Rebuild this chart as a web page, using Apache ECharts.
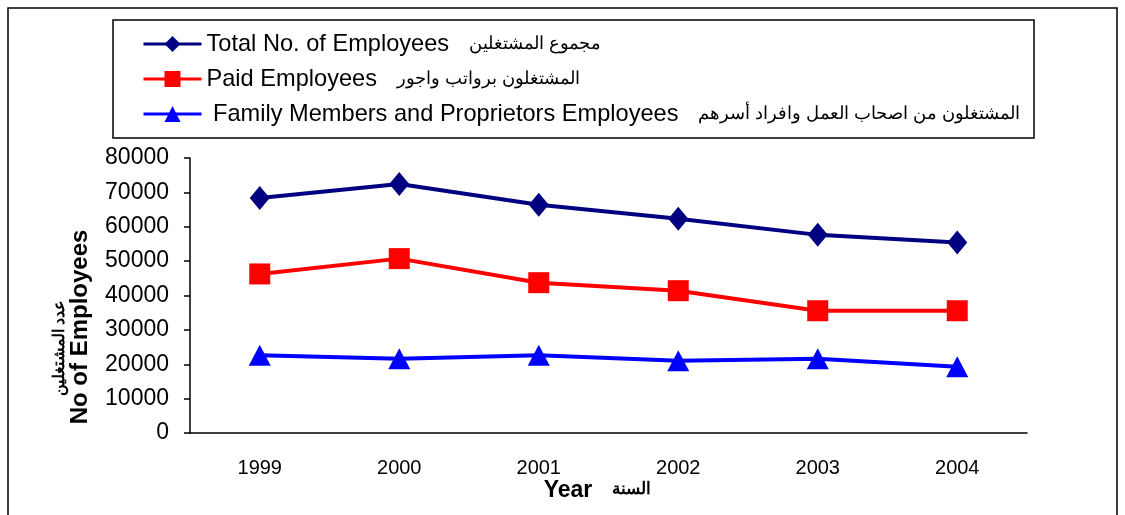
<!DOCTYPE html>
<html>
<head>
<meta charset="utf-8">
<script src="https://cdn.jsdelivr.net/npm/echarts@6/dist/echarts.min.js"></script>
<style>
  html, body { margin: 0; padding: 0; background: #fff; }
  #chart { width: 1125px; height: 515px; }
</style>
</head>
<body>
<div id="chart"></div>
<script>
  // data
  var years = ['1999', '2000', '2001', '2002', '2003', '2004'];
  var totalEmployees = [68340, 72420, 66380, 62300, 57640, 55400];
  var paidEmployees = [46270, 50730, 43730, 41400, 35570, 35570];
  var familyEmployees = [22650, 21570, 22650, 20990, 21570, 19240];
  var namesEn = ['Total No. of Employees', 'Paid Employees', ' Family Members and Proprietors Employees'];
  var namesAr = ['مجموع المشتغلين', 'المشتغلون برواتب واجور', 'المشتغلون من اصحاب العمل وافراد أسرهم'];

  var font = '"Liberation Sans", Arial, sans-serif';
  var chart = echarts.init(document.getElementById('chart'));

  var option = {
    animation: false,
    backgroundColor: '#fff',
    grid: { left: 190, right: 98, top: 158, bottom: 82 },
    legend: {
      orient: 'vertical',
      left: 142,
      top: 32,
      padding: 0,
      itemGap: 11,
      itemWidth: 58,
      itemHeight: 20,
      lineStyle: { width: 3 },
      data: namesEn,
      formatter: function (name) {
        var i = namesEn.indexOf(name);
        return '{en|' + name + '   }{ar|' + namesAr[i] + '}';
      },
      textStyle: {
        color: '#000',
        lineHeight: 24,
        rich: {
          en: { fontFamily: font, fontSize: 23.6, color: '#000', lineHeight: 24 },
          ar: { fontFamily: font, fontSize: 18, color: '#000', lineHeight: 24 }
        }
      }
    },
    xAxis: {
      type: 'category',
      data: years,
      axisLine: { lineStyle: { color: '#000', width: 1.5 } },
      axisTick: { lineStyle: { color: '#000', width: 1.5 }, length: 6 },
      axisLabel: { color: '#000', fontFamily: font, fontSize: 20, margin: 25 }
    },
    yAxis: {
      type: 'value',
      min: 0,
      max: 80000,
      interval: 10000,
      splitLine: { show: false },
      axisLine: { show: true, lineStyle: { color: '#000', width: 1.5 } },
      axisTick: { show: true, lineStyle: { color: '#000', width: 1.5 }, length: 6 },
      axisLabel: {
        color: '#000', fontFamily: font, fontSize: 23, margin: 21,
        formatter: function (v) { return String(v); }
      }
    },
    graphic: [
      {
        type: 'rect',
        shape: { x: 8, y: 8, width: 1109, height: 530 },
        style: { fill: 'none', stroke: '#000', lineWidth: 1.5 },
        silent: true
      },
      {
        type: 'rect',
        shape: { x: 113, y: 20, width: 921, height: 118 },
        style: { fill: 'none', stroke: '#000', lineWidth: 1.5 },
        silent: true
      },
      {
        type: 'text',
        x: 80, y: 327, rotation: Math.PI / 2,
        style: {
          text: 'No of Employees', fontFamily: font, fontSize: 24, fontWeight: 'bold',
          fill: '#000', align: 'center', verticalAlign: 'middle'
        }
      },
      {
        type: 'text',
        x: 60, y: 348, rotation: Math.PI / 2,
        style: {
          text: 'عدد المشتغلين', fontFamily: font, fontSize: 16, fontWeight: 'bold',
          fill: '#000', align: 'center', verticalAlign: 'middle'
        }
      },
      {
        type: 'text',
        x: 568, y: 491,
        style: {
          text: 'Year', fontFamily: font, fontSize: 23, fontWeight: 'bold',
          fill: '#000', align: 'center', verticalAlign: 'middle'
        }
      },
      {
        type: 'text',
        x: 631, y: 489,
        style: {
          text: 'السنة', fontFamily: font, fontSize: 17, fontWeight: 'bold',
          fill: '#000', align: 'center', verticalAlign: 'middle'
        }
      }
    ],
    series: [
      {
        name: namesEn[0],
        type: 'line',
        data: totalEmployees,
        color: '#000080',
        lineStyle: { width: 4 },
        symbol: 'diamond',
        symbolSize: [20, 24]
      },
      {
        name: namesEn[1],
        type: 'line',
        data: paidEmployees,
        color: '#ff0000',
        lineStyle: { width: 4 },
        symbol: 'rect',
        symbolSize: 21
      },
      {
        name: namesEn[2],
        type: 'line',
        data: familyEmployees,
        color: '#0000ff',
        lineStyle: { width: 4 },
        symbol: 'triangle',
        symbolSize: [22, 21]
      }
    ]
  };

  chart.setOption(option);
</script>
</body>
</html>
